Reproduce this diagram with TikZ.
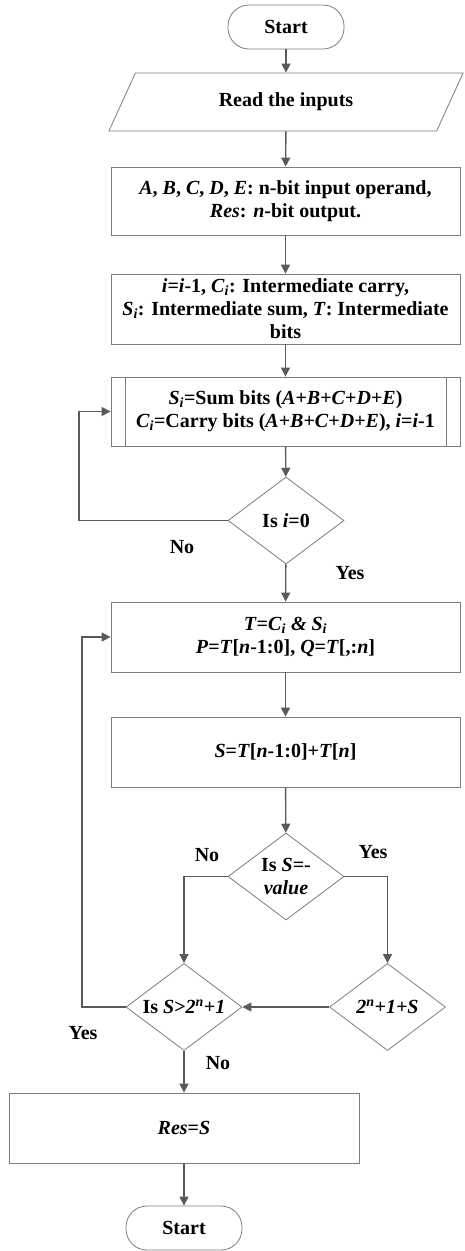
\documentclass[tikz,border=0pt]{standalone}
\usepackage{fontspec}
\setmainfont{Liberation Serif}
\usetikzlibrary{positioning,shapes.geometric,arrows.meta}
\definecolor{linegray}{RGB}{90,90,90}
\definecolor{boxgray}{RGB}{125,125,125}
\begin{document}
\begin{tikzpicture}[
x=1pt, y=1pt,
font=\fontsize{20}{23}\selectfont\bfseries,
terminal/.style={
  draw=boxgray,
  line width=0.8pt,
  rounded corners=21pt,
  minimum width=116pt,
  minimum height=44pt
  },
io/.style={
  trapezium,
  trapezium left angle=63.4,
  trapezium right angle=116.6,
  trapezium stretches=true,
  draw=boxgray,
  line width=0.8pt,
  minimum width=355pt,
  minimum height=58pt
  },
process/.style={
  draw=boxgray,
  line width=0.8pt,
  minimum width=349pt,
  minimum height=70pt,
  align=center,
  inner sep=2pt
  },
decision/.style={
  diamond,
  draw=boxgray,
  line width=0.8pt,
  minimum width=116pt,
  minimum height=87pt,
  inner sep=0pt
  },
flow/.style={draw=linegray, line width=1.4pt, -{Triangle[length=9pt,width=9pt]}},
answer/.style={inner sep=0pt}
]
\useasboundingbox (0,0) rectangle (464,-1251);
\coordinate (loopa) at (79,0);
\coordinate (loopb) at (82,0);
\node[terminal] (start) at (286,-27) {Start};
\node[io] (read) at (286,-102) {Read the inputs};
\node[process, minimum height=68pt] (operands) at (285.5,-201)
  {\textit{A}, \textit{B}, \textit{C}, \textit{D}, \textit{E}: n-bit input operand,\\
   \textit{Res}: \textit{n}-bit output.};
\node[process] (inter) at (285.5,-309)
  {\textit{i}=\textit{i}-1, \textit{C}\textsubscript{\textit{i}}: Intermediate carry,\\
   \textit{S}\textsubscript{\textit{i}}: Intermediate sum, \textit{T}: Intermediate\\
   bits};
\node[process, minimum height=69pt] (sum) at (285.5,-411.5)
  {\textit{S}\textsubscript{\textit{i}}=Sum bits (\textit{A}+\textit{B}+\textit{C}+\textit{D}+\textit{E})\\
   \textit{C}\textsubscript{\textit{i}}=Carry bits (\textit{A}+\textit{B}+\textit{C}+\textit{D}+\textit{E}), \textit{i}=\textit{i}-1};
\draw[boxgray, line width=0.8pt]
  ([xshift=15pt]sum.north west) -- ([xshift=15pt]sum.south west)
  ([xshift=-14pt]sum.north east) -- ([xshift=-14pt]sum.south east);
\node[decision, label={center:Is \textit{i}=0}] (zero) at (286,-520.5) {};
\node[process] (concat) at (285.5,-637)
  {\textit{T}=\textit{C}\textsubscript{\textit{i}} \textit{\&} \textit{S}\textsubscript{\textit{i}}\\
   \textit{P}=\textit{T}[\textit{n}-1:0], \textit{Q}=\textit{T}[,:\textit{n}]};
\node[process] (modsum) at (285.5,-752)
  {\textit{S}=\textit{T}[\textit{n}-1:0]+\textit{T}[\textit{n}]};
\node[decision, label={[align=center]center:Is \textit{S}=-\\\textit{value}}] (neg) at (286,-876.5) {};
\node[decision, label={center:Is \textit{S}>\textit{2}\textsuperscript{\textit{n}}\textit{+1}}] (cmp) at (184,-1007) {};
\node[decision, label={center:\textit{2}\textsuperscript{\textit{n}}\textit{+1+S}}] (wrap) at (387.5,-1007) {};
\node[process, minimum width=350pt] (res) at (184,-1128) {\textit{Res}=\textit{S}};
\node[terminal] (stop) at (184,-1228) {Start};
\node[answer] (no1) at (182,-547) {No};
\node[answer] (yes1) at (350,-573) {Yes};
\node[answer] (no2) at (207,-855) {No};
\node[answer] (yes2) at (373,-852) {Yes};
\node[answer] (yes3) at (83,-1033) {Yes};
\node[answer] (no3) at (218,-1063) {No};
\draw[flow] (start) -- (read);
\draw[flow] (read) -- (operands);
\draw[flow] (operands) -- (inter);
\draw[flow] (inter) -- (sum);
\draw[flow] (sum) -- (zero);
\draw[flow] (zero.west) -- (zero.west -| loopa) |- (sum.west);
\draw[flow] (zero) -- (concat);
\draw[flow] (concat) -- (modsum);
\draw[flow] (modsum) -- (neg);
\draw[flow] (neg.west) -| (cmp.north);
\draw[flow] (neg.east) -| (wrap.north);
\draw[flow] (wrap.west) -- (cmp.east);
\draw[flow] (cmp.west) -- (cmp.west -| loopb) |- (concat.west);
\draw[flow] (cmp) -- (res);
\draw[flow] (res) -- (stop);
\end{tikzpicture}
\end{document}
